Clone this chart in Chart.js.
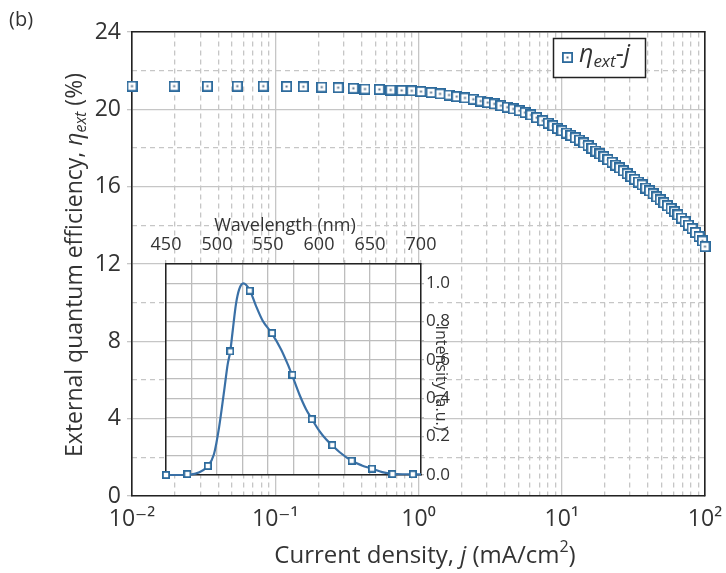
<html>
<head>
<meta charset="UTF-8">
<title>EQE vs current density</title>
<script src="https://cdn.jsdelivr.net/npm/chart.js@4.4.1/dist/chart.umd.min.js"></script>
<style>
body{margin:0;background:#fff;}
#wrap{position:relative;width:726px;height:573px;}
#mainChart{position:absolute;left:0;top:0;}
#insetChart{position:absolute;left:140px;top:200px;}
</style>
</head>
<body>
<div id="wrap">
	<canvas id="mainChart" width="726" height="573"></canvas>
	<canvas id="insetChart" width="330" height="300"></canvas>
</div>
<script>
// main plot: current density j (mA/cm2) vs external quantum efficiency (%)
var currentDensity = [0.01, 0.0197, 0.0336, 0.0543, 0.0825, 0.120, 0.157, 0.211, 0.275, 0.351,
	0.423, 0.533, 0.640, 0.763, 0.897, 1.041, 1.223, 1.413, 1.633, 1.848,
	2.111, 2.413, 2.718, 3.042, 3.382, 3.766, 4.168, 4.589, 5.054, 5.540,
	6.100, 6.684, 7.362, 8.055, 8.687, 9.340, 10.04, 10.79, 11.60, 12.43,
	13.30, 14.23, 15.25, 16.26, 17.34, 18.49, 19.72, 21.03, 22.43, 23.84,
	25.34, 26.94, 28.63, 30.43, 32.30, 34.28, 36.38, 38.61, 40.98, 43.42,
	46.00, 48.75, 51.65, 54.72, 57.90, 61.25, 64.79, 68.55, 72.52, 76.70,
	81.16, 85.85, 90.81, 95.90, 100];
var eqe = [21.2, 21.2, 21.2, 21.2, 21.2, 21.18, 21.17, 21.15, 21.12, 21.09,
	21.05, 21.03, 21.0, 20.98, 20.96, 20.92, 20.87, 20.80, 20.74, 20.66,
	20.59, 20.52, 20.43, 20.35, 20.28, 20.19, 20.11, 20.02, 19.93, 19.83,
	19.71, 19.57, 19.41, 19.28, 19.15, 19.01, 18.89, 18.77, 18.65, 18.53,
	18.41, 18.26, 18.12, 17.98, 17.84, 17.69, 17.55, 17.40, 17.26, 17.11,
	16.97, 16.82, 16.67, 16.52, 16.38, 16.24, 16.09, 15.93, 15.78, 15.63,
	15.47, 15.32, 15.17, 15.01, 14.86, 14.70, 14.54, 14.37, 14.19, 14.01,
	13.83, 13.63, 13.42, 13.19, 12.9];
var xMajorTicks = [0.01, 0.1, 1, 10, 100];
var xTickLabels = ['10\u207B\u00B2', '10\u207B\u00B9', '10\u2070', '10\u00B9', '10\u00B2'];
var yMinorTicks = [2, 6, 10, 14, 18, 22];

// inset: EL spectrum
var markerWavelength = [450, 471, 491, 513, 532, 554, 574, 593, 613, 632, 652, 672, 692];
var markerIntensity = [0, 0.005, 0.047, 0.644, 0.961, 0.740, 0.522, 0.291, 0.156, 0.074, 0.033, 0.005, 0.004];
var curveWavelength = [450, 466, 479, 491, 497, 502, 507, 510.5, 513, 515.4,
	518.6, 521.9, 525.8, 528.4, 532.4, 538.2, 544.8, 553.6, 562.7, 569.3,
	573.5, 580.7, 587.3, 593.1, 600.3, 606.9, 612.7, 620, 632, 642,
	652, 662, 672, 682, 692, 700];
var curveIntensity = [0, 0, 0.007, 0.047, 0.108, 0.247, 0.439, 0.578, 0.644, 0.752,
	0.891, 0.970, 0.999, 0.992, 0.961, 0.882, 0.804, 0.740, 0.656, 0.578,
	0.522, 0.421, 0.343, 0.291, 0.230, 0.186, 0.156, 0.12, 0.074, 0.05,
	0.033, 0.015, 0.006, 0.004, 0.004, 0.003];

var FONT = '"Open Sans", "DejaVu Sans", sans-serif';
var TEXT = '#333';
var BLUE = '#2c6a9c';
var GRID = '#c6c6c6';
var AXIS = '#222';

// minor log gridlines 2..9 per decade
var xMinorTicks = [];
for (var d = 0; d < 4; d++) {
	for (var m = 2; m <= 9; m++) xMinorTicks.push(m * Math.pow(10, d - 2));
}

var makeSquare = function(size, dot){
	var c = document.createElement('canvas');
	c.width = size; c.height = size;
	var g = c.getContext('2d');
	g.fillStyle = '#fff';
	g.fillRect(0, 0, size, size);
	g.strokeStyle = BLUE;
	g.lineWidth = 1.8;
	g.strokeRect(0.9, 0.9, size - 1.8, size - 1.8);
	if (dot) {
		g.fillStyle = '#55708a';
		g.fillRect(size / 2 - 1, size / 2 - 1, 2, 2);
	}
	return c;
};
var bigSquare = makeSquare(11, true);
var smallSquare = makeSquare(8, false);

var fontOf = function(r, size){
	var s = (r.sub || r.sup) ? Math.round(size * 0.68) : size;
	return (r.i ? 'italic ' : '') + s + 'px ' + FONT;
};
var drawRich = function(ctx, runs, x, y, size, align){
	var w = 0;
	runs.forEach(function(r){ ctx.font = fontOf(r, size); w += ctx.measureText(r.t).width; });
	if (align !== 'left') x = x - w / 2;
	ctx.textBaseline = 'middle';
	ctx.textAlign = 'left';
	ctx.fillStyle = TEXT;
	runs.forEach(function(r){
		ctx.font = fontOf(r, size);
		var dy = r.sub ? size * 0.3 : (r.sup ? -size * 0.35 : 0);
		ctx.fillText(r.t, x, y + dy);
		x += ctx.measureText(r.t).width;
	});
};

var mainDecor = {
	id: 'mainDecor',
	afterDraw: function(chart){
		var ctx = chart.ctx;
		ctx.save();
		ctx.font = '20px ' + FONT;
		ctx.fillStyle = TEXT;
		ctx.textBaseline = 'middle';
		ctx.fillText('(b)', 9, 20);
		// y title
		ctx.save();
		ctx.translate(75, 265);
		ctx.rotate(-Math.PI / 2);
		drawRich(ctx, [{t: 'External quantum efficiency, '}, {t: '\u03B7', i: 1}, {t: 'ext', i: 1, sub: 1}, {t: ' (%)'}], 0, 0, 23);
		ctx.restore();
		// x title
		drawRich(ctx, [{t: 'Current density, '}, {t: 'j', i: 1}, {t: ' (mA/cm'}, {t: '2', sup: 1}, {t: ')'}], 425, 556, 24);
		// legend
		ctx.fillStyle = '#fff';
		ctx.fillRect(553.5, 38.5, 92, 39);
		ctx.strokeStyle = AXIS;
		ctx.lineWidth = 1.5;
		ctx.strokeRect(553.5, 38.5, 92, 39);
		ctx.drawImage(bigSquare, 562, 52);
		drawRich(ctx, [{t: '\u03B7', i: 1}, {t: 'ext', i: 1, sub: 1}, {t: '-'}, {t: 'j', i: 1}], 579, 55, 25, 'left');
		ctx.restore();
	}
};

new Chart(document.getElementById('mainChart'), {
	type: 'scatter',
	data: {
		datasets: [{
			data: currentDensity.map(function(x, i){ return {x: x, y: eqe[i]}; }),
			pointStyle: bigSquare,
			pointRadius: 5,
			clip: false
		}]
	},
	options: {
		responsive: false,
		animation: false,
		layout: {padding: 0},
		plugins: {legend: {display: false}, tooltip: {enabled: false}},
		scales: {
			x: {
				type: 'logarithmic', position: 'bottom', min: 0.01, max: 100,
				afterBuildTicks: function(s){ s.ticks = xMajorTicks.map(function(v){ return {value: v}; }); },
				afterFit: function(s){ s.height = 77; s.paddingLeft = 0; s.paddingRight = 0; },
				ticks: {autoSkip: false, maxRotation: 0, padding: 10, color: TEXT, font: {family: FONT, size: 23},
					callback: function(v, i){ return xTickLabels[i]; }},
				grid: {color: GRID, lineWidth: 1.3, drawTicks: false},
				border: {color: AXIS, width: 1.6}
			},
			x2: {
				type: 'logarithmic', position: 'top', min: 0.01, max: 100,
				afterBuildTicks: function(s){ s.ticks = xMinorTicks.map(function(v){ return {value: v}; }); },
				afterFit: function(s){ s.height = 32; s.paddingLeft = 0; s.paddingRight = 0; },
				ticks: {display: false},
				grid: {color: GRID, lineWidth: 1.3, drawTicks: false},
				border: {color: AXIS, width: 1.6, dash: [5, 4]}
			},
			y: {
				type: 'linear', position: 'left', min: 0, max: 24,
				afterFit: function(s){ s.width = 132; },
				ticks: {stepSize: 4, padding: 6, color: TEXT, font: {family: FONT, size: 23}},
				grid: {color: GRID, lineWidth: 1.3, drawTicks: true, tickLength: 5},
				border: {color: AXIS, width: 1.6}
			},
			y2: {
				type: 'linear', position: 'right', min: 0, max: 24,
				afterBuildTicks: function(s){ s.ticks = yMinorTicks.map(function(v){ return {value: v}; }); },
				afterFit: function(s){ s.width = 21; },
				ticks: {display: false},
				grid: {color: GRID, lineWidth: 1.3, drawTicks: false},
				border: {color: AXIS, width: 1.6, dash: [5, 4]}
			}
		}
	},
	plugins: [mainDecor]
});

var insetDecor = {
	id: 'insetDecor',
	beforeDraw: function(chart){
		var a = chart.chartArea;
		chart.ctx.save();
		chart.ctx.fillStyle = '#fff';
		chart.ctx.fillRect(a.left, a.top, a.right - a.left, a.bottom - a.top);
		chart.ctx.restore();
	},
	afterDraw: function(chart){
		var ctx = chart.ctx;
		ctx.save();
		drawRich(ctx, [{t: 'Wavelength (nm)'}], 145, 26, 18);
		ctx.translate(301, 178);
		ctx.rotate(Math.PI / 2);
		drawRich(ctx, [{t: 'Intensity (a.u.)'}], 0, 0, 16);
		ctx.restore();
	}
};

new Chart(document.getElementById('insetChart'), {
	type: 'scatter',
	data: {
		datasets: [{
			data: markerWavelength.map(function(x, i){ return {x: x, y: markerIntensity[i]}; }),
			xAxisID: 'xt', yAxisID: 'yr',
			pointStyle: smallSquare, pointRadius: 4, clip: false
		}, {
			data: curveWavelength.map(function(x, i){ return {x: x, y: curveIntensity[i]}; }),
			xAxisID: 'xt', yAxisID: 'yr',
			showLine: true, pointRadius: 0, borderColor: '#3a70a6', borderWidth: 2.2,
			cubicInterpolationMode: 'monotone', clip: false
		}]
	},
	options: {
		responsive: false,
		animation: false,
		layout: {padding: 0},
		plugins: {legend: {display: false}, tooltip: {enabled: false}},
		scales: {
			xt: {
				type: 'linear', position: 'top', min: 450, max: 700,
				afterFit: function(s){ s.height = 64; },
				ticks: {stepSize: 25, autoSkip: false, maxRotation: 0, padding: 4, color: TEXT, font: {family: FONT, size: 18},
					callback: function(v){ return v % 50 === 0 ? String(v) : ''; }},
				grid: {color: '#bdbdbd', lineWidth: 1.3, drawTicks: true, tickLength: 4},
				border: {color: AXIS, width: 1.5}
			},
			xb: {
				type: 'linear', position: 'bottom',
				afterFit: function(s){ s.height = 25; },
				ticks: {display: false},
				grid: {display: false},
				border: {color: AXIS, width: 1.5}
			},
			yl: {
				type: 'linear', position: 'left',
				afterFit: function(s){ s.width = 26; },
				ticks: {display: false},
				grid: {display: false},
				border: {color: AXIS, width: 1.5}
			},
			yr: {
				type: 'linear', position: 'right', min: 0, max: 1.1,
				afterFit: function(s){ s.width = 49; },
				ticks: {stepSize: 0.1, autoSkip: false, padding: 2, color: TEXT, font: {family: FONT, size: 17},
					callback: function(v){ return Math.round(v * 10) % 2 === 0 ? v.toFixed(1) : ''; }},
				grid: {color: '#bdbdbd', lineWidth: 1.3, drawTicks: true, tickLength: 3},
				border: {color: AXIS, width: 1.5}
			}
		}
	},
	plugins: [insetDecor]
});
</script>
</body>
</html>
